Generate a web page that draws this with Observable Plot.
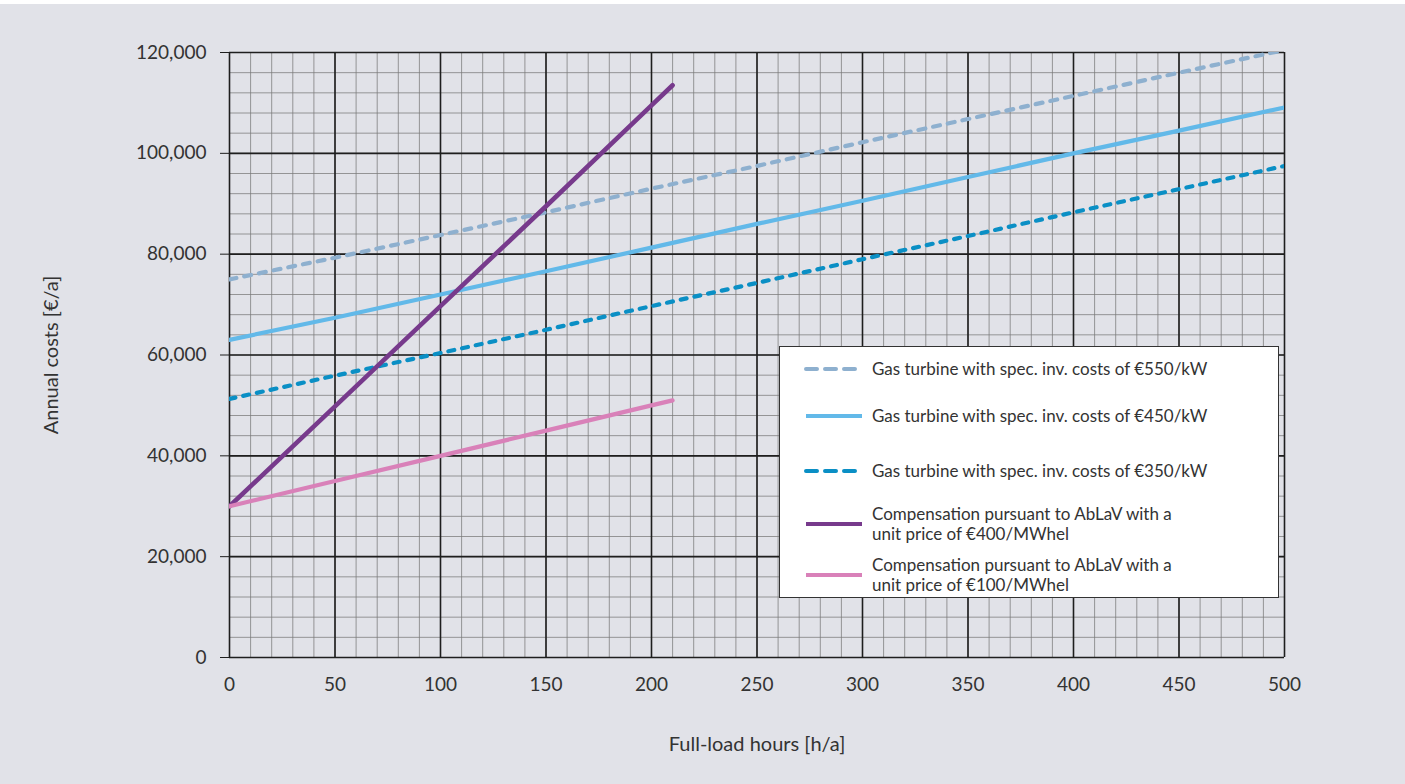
<!DOCTYPE html>
<html>
<head>
<meta charset="utf-8">
<script src="https://cdn.jsdelivr.net/npm/d3@7"></script>
<script src="https://cdn.jsdelivr.net/npm/@observablehq/plot@0.6"></script>
<style>
  html, body { margin: 0; padding: 0; background: #e1e2e8; }
  #wrap { position: relative; width: 1405px; height: 784px; background: #e1e2e8; border-top: 4px solid #fff; box-sizing: border-box; font-family: Lato, "Open Sans", sans-serif; }
  #chart { position: absolute; left: 0; top: 0; }
  #legend { position: absolute; left: 779px; top: 342px; width: 498px; height: 250px; background: #fff; border: 1.5px solid #333; box-sizing: content-box; }
  .item { position: absolute; left: 24px; display: flex; align-items: center; }
  .item svg { width: 60px; height: 8px; margin-right: 8px; flex: none; }
  .item span { font-size: 17px; color: #333; line-height: 20.5px; }
</style>
</head>
<body>
<div id="wrap">
  <div id="chart"></div>
  <div id="legend"></div>
</div>
<script>
// Data
const hours = [0, 50, 100, 150, 200, 250, 300, 350, 400, 450, 500];
const gas550 = [75000, 79300, 83800, 88300, 93000, 97500, 102200, 106800, 111400, 116000, 120500];
const gas450 = [63000, 67400, 72000, 76600, 81300, 86000, 90600, 95300, 100000, 104500, 109100];
const gas350 = [51300, 55900, 60400, 65000, 69700, 74300, 79000, 83600, 88300, 92900, 97500];
const ablavHours = [0, 50, 100, 150, 200, 210];
const ablav400 = [30000, 49800, 69700, 89500, 109500, 113500];
const ablav100 = [30000, 35000, 40000, 45000, 50000, 51000];

const seriesNames = [
  "Gas turbine with spec. inv. costs of €550/kW",
  "Gas turbine with spec. inv. costs of €450/kW",
  "Gas turbine with spec. inv. costs of €350/kW",
  "Compensation pursuant to AbLaV with a unit price of €400/MWhel",
  "Compensation pursuant to AbLaV with a unit price of €100/MWhel"
];
const seriesColors = ["#8eb0cf", "#62b9e9", "#0a8fc5", "#773a8c", "#d981b9"];
const seriesDash = ["7,8", null, "6,8", null, null];
const seriesWidth = [4.2, 4.2, 4.2, 4.6, 4.2];

const xTicks = d3.range(0, 501, 50);
const yTicks = d3.range(0, 120001, 20000);
const xMinor = d3.range(0, 501, 10);
const yMinor = d3.range(0, 120001, 4000);

const toRows = (xs, ys) => xs.map((x, i) => ({x, y: ys[i]}));
const series = [
  toRows(hours, gas550),
  toRows(hours, gas450),
  toRows(hours, gas350),
  toRows(ablavHours, ablav400),
  toRows(ablavHours, ablav100)
];

const chart = Plot.plot({
  width: 1405,
  height: 776,
  marginLeft: 229,
  marginRight: 121,
  marginTop: 48,
  marginBottom: 123,
  style: {background: "transparent", fontFamily: "Lato, 'Open Sans', sans-serif", fontSize: "19px", color: "#333"},
  x: {domain: [0, 500]},
  y: {domain: [0, 120000]},
  marks: [
    Plot.ruleX(xMinor, {stroke: "#7a7a7a", strokeWidth: 1, strokeOpacity: 0.75}),
    Plot.ruleY(yMinor, {stroke: "#7a7a7a", strokeWidth: 1, strokeOpacity: 0.75}),
    Plot.ruleX(xTicks, {stroke: "#1e1e1e", strokeWidth: 1.6}),
    Plot.ruleY(yTicks, {stroke: "#1e1e1e", strokeWidth: 1.6}),
    Plot.axisY({ticks: yTicks, tickFormat: d3.format(","), tickSize: 9, tickPadding: 14, stroke: "#1e1e1e",
      label: null, fill: "#333"}),
    Plot.axisY({ticks: [], label: "Annual costs [€/a]", labelAnchor: "center", labelOffset: 186, labelArrow: "none",
      fill: "#333", fontSize: 20}),
    Plot.axisX({ticks: xTicks, tickFormat: d3.format("d"), tickSize: 0, tickPadding: 20,
      label: null, fill: "#333"}),
    Plot.axisX({ticks: [], label: "Full-load hours [h/a]", labelAnchor: "center", labelOffset: 93, labelArrow: "none",
      fill: "#333", fontSize: 20}),
    ...series.map((rows, i) => Plot.line(rows, {
      x: "x", y: "y", stroke: seriesColors[i], strokeWidth: seriesWidth[i],
      strokeDasharray: seriesDash[i] || undefined, strokeLinecap: "round", clip: true
    }))
  ]
});
document.getElementById("chart").appendChild(chart);

// Legend
const legend = document.getElementById("legend");
const centers = [22, 69, 124, 177, 228];
seriesNames.forEach((name, i) => {
  const item = document.createElement("div");
  item.className = "item";
  const svgNS = "http://www.w3.org/2000/svg";
  const s = document.createElementNS(svgNS, "svg");
  const ln = document.createElementNS(svgNS, "line");
  ln.setAttribute("x1", 2); ln.setAttribute("x2", 58); ln.setAttribute("y1", 4); ln.setAttribute("y2", 4);
  ln.setAttribute("stroke", seriesColors[i]); ln.setAttribute("stroke-width", 4);
  if (seriesDash[i]) { ln.setAttribute("stroke-dasharray", "11,8"); ln.setAttribute("stroke-linecap", "round"); }
  s.appendChild(ln);
  const t = document.createElement("span");
  if (i >= 3) {
    const parts = name.split(" with a ");
    t.innerHTML = parts[0] + " with a<br>" + parts[1];
  } else t.textContent = name;
  item.appendChild(s); item.appendChild(t);
  item.style.top = (centers[i] - (i >= 3 ? 21 : 10)) + "px";
  item.style.height = (i >= 3 ? 42 : 20) + "px";
  legend.appendChild(item);
});
</script>
</body>
</html>
